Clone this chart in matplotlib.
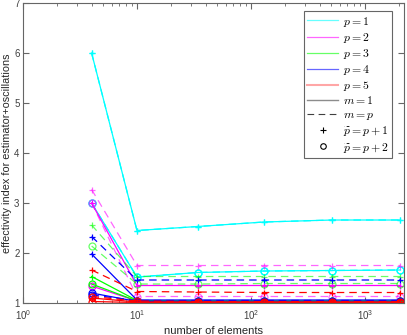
import matplotlib
matplotlib.use("Agg")
import matplotlib.pyplot as plt
from matplotlib.lines import Line2D
import numpy as np

plt.rcParams['font.family'] = ['Liberation Sans', 'DejaVu Sans']
plt.rcParams['mathtext.fontset'] = 'cm'

elements = [4, 10, 34, 130, 514, 2050]

colors = {1: (0, 1, 1), 2: (1, 0, 1), 3: (0, 1, 0), 4: (0, 0, 1), 5: (1, 0, 0)}

# (p, m-type, ptilde-type) -> values
series = {
    (1, '1', '+'): [6.00, 2.45, 2.53, 2.62, 2.66, 2.66],
    (1, '1', 'o'): [3.00, 1.52, 1.61, 1.64, 1.65, 1.66],
    (1, 'p', '+'): [6.00, 2.45, 2.53, 2.62, 2.66, 2.66],
    (1, 'p', 'o'): [3.00, 1.52, 1.61, 1.64, 1.65, 1.66],
    (2, '1', '+'): [3.00, 1.35, 1.35, 1.35, 1.35, 1.35],
    (2, '1', 'o'): [1.34, 1.04, 1.03, 1.03, 1.03, 1.03],
    (2, 'p', '+'): [3.27, 1.75, 1.75, 1.75, 1.75, 1.75],
    (2, 'p', 'o'): [3.00, 1.13, 1.13, 1.13, 1.13, 1.13],
    (3, '1', '+'): [1.53, 1.05, 1.04, 1.04, 1.04, 1.04],
    (3, '1', 'o'): [1.38, 1.04, 1.04, 1.04, 1.04, 1.04],
    (3, 'p', '+'): [2.56, 1.53, 1.53, 1.53, 1.53, 1.53],
    (3, 'p', 'o'): [2.14, 1.38, 1.38, 1.39, 1.39, 1.39],
    (4, '1', '+'): [1.98, 1.06, 1.06, 1.06, 1.06, 1.06],
    (4, '1', 'o'): [1.20, 1.03, 1.02, 1.02, 1.02, 1.02],
    (4, 'p', '+'): [2.33, 1.46, 1.46, 1.46, 1.46, 1.46],
    (4, 'p', 'o'): [1.16, 1.05, 1.05, 1.05, 1.05, 1.05],
    (5, '1', '+'): [1.10, 1.02, 1.02, 1.02, 1.02, 1.02],
    (5, '1', 'o'): [1.03, 1.01, 1.01, 1.01, 1.01, 1.01],
    (5, 'p', '+'): [1.66, 1.23, 1.22, 1.21, 1.21, 1.21],
    (5, 'p', 'o'): [1.13, 1.04, 1.03, 1.03, 1.03, 1.03],
}

fig = plt.figure(figsize=(4.07, 3.35), dpi=100)
ax = fig.add_axes([0.0565, 0.0955, 0.936, 0.8955])

for (p, m, pt), vals in series.items():
    ls = '-' if m == '1' else (0, (6, 4))
    alpha = 0.6 if (m == 'p' and p in (2, 3)) else 1.0
    ax.plot(elements, vals, color=colors[p], linestyle=ls, linewidth=0.9,
            marker=pt, markersize=5, markeredgewidth=0.9,
            markerfacecolor='none', alpha=alpha)

ax.set_xscale('log')
ax.set_xlim(1, 2200)
ax.set_ylim(1, 7)
ax.set_yticks([1, 2, 3, 4, 5, 6, 7])
ax.set_xticks([1, 10, 100, 1000])

gray = (0.25, 0.25, 0.25)
for s in ax.spines.values():
    s.set_color((0.4, 0.4, 0.4))
    s.set_linewidth(0.8)
ax.tick_params(which='both', direction='in', top=True, right=True, colors=(0.4, 0.4, 0.4),
               labelcolor=gray, labelsize=7)
ax.tick_params(which='major', length=4)
ax.tick_params(which='minor', length=2)
ax.tick_params(axis='y', pad=2.5)

ax.set_xlabel('number of elements', fontsize=8, color=(0.15, 0.15, 0.15), labelpad=3)
ax.set_ylabel('effectivity index for estimator+oscillations', fontsize=7.8,
              color=(0.15, 0.15, 0.15), va='center')
ax.yaxis.set_label_coords(-0.041, 0.5)

handles = [
    Line2D([], [], color=colors[1], lw=0.9, alpha=0.6),
    Line2D([], [], color=colors[2], lw=0.9, alpha=0.6),
    Line2D([], [], color=colors[3], lw=0.9, alpha=0.6),
    Line2D([], [], color=colors[4], lw=0.9, alpha=0.6),
    Line2D([], [], color=colors[5], lw=1.5, alpha=0.35),
    Line2D([], [], color=(0.55, 0.55, 0.55), lw=1.0),
    Line2D([], [], color=(0.25, 0.25, 0.25), lw=0.8, linestyle=(0, (6, 4))),
    Line2D([], [], color='k', lw=0, marker='+', markersize=4, markeredgewidth=0.8),
    Line2D([], [], color='k', lw=0, marker='o', markersize=4, markerfacecolor='none', markeredgewidth=0.8),
]
labels = [r'$p=1$', r'$p=2$', r'$p=3$', r'$p=4$', r'$p=5$', r'$m=1$', r'$m=p$',
          r'$\widetilde{p}=p+1$', r'$\widetilde{p}=p+2$']
leg = ax.legend(handles, labels, loc='upper right', bbox_to_anchor=(0.985, 0.993),
                fontsize=8.5, handlelength=2.6, handletextpad=0.4, labelspacing=0.18,
                borderpad=0.3, fancybox=False, framealpha=1, edgecolor=(0.4, 0.4, 0.4))
leg.get_frame().set_linewidth(0.8)

fig.savefig('out.png', dpi=100)
